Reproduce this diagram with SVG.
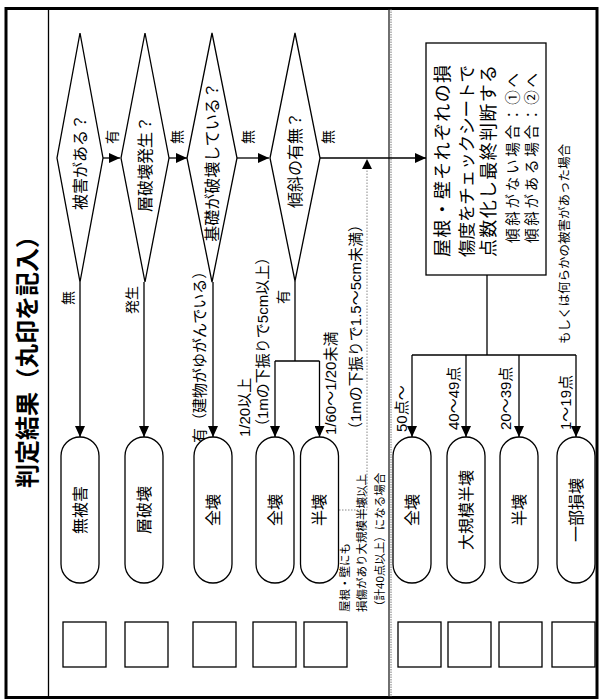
<svg xmlns="http://www.w3.org/2000/svg" width="601" height="699" viewBox="0 0 601 699">
<style>
text{font-family:"Liberation Sans","Noto Sans CJK JP",sans-serif;fill:#000}
.t{font-size:16px}
.s{font-size:14px}
.l{font-size:15px}
.d{fill:#fff;stroke:#000;stroke-width:1.3}
.cap{fill:#fff;stroke:#000;stroke-width:1.3}
.box{fill:#fff;stroke:#000;stroke-width:1.3}
.ln{fill:none;stroke:#000;stroke-width:1.3}
.dot{fill:none;stroke:#888;stroke-width:1;stroke-dasharray:1.5,1.5}
</style>
<defs>
<marker id="ah" markerUnits="userSpaceOnUse" markerWidth="11" markerHeight="10" refX="11" refY="5" orient="auto">
<path d="M0,0 L11,5 L0,10 z" fill="#000"/>
</marker>
</defs>
<rect x="0" y="0" width="601" height="699" fill="#fff"/>
<g id="frame">
<rect x="6" y="8.5" width="591" height="689" fill="none" stroke="#000" stroke-width="3"/>
<line x1="48.5" y1="9" x2="48.5" y2="697" stroke="#000" stroke-width="1.3"/>
<line x1="389" y1="9" x2="389" y2="697" stroke="#222" stroke-width="1.3"/>
<line x1="391" y1="9" x2="391" y2="697" stroke="#777" stroke-width="1" stroke-dasharray="1.5,1"/>
</g>
<g id="title">
<text transform="translate(27,356) rotate(-90)" text-anchor="middle" dominant-baseline="central" font-size="24" font-weight="bold">判定結果（丸印を記入）</text>
</g>
<g id="connectors">
<line class="ln" x1="103" y1="158" x2="120" y2="158" marker-end="url(#ah)"/>
<line class="ln" x1="169" y1="158" x2="187" y2="158" marker-end="url(#ah)"/>
<line class="ln" x1="237" y1="158" x2="269" y2="158" marker-end="url(#ah)"/>
<line class="ln" x1="320" y1="158" x2="426" y2="158" marker-end="url(#ah)"/>
<line class="ln" x1="80" y1="282" x2="80" y2="437" marker-end="url(#ah)"/>
<line class="ln" x1="144" y1="282" x2="144" y2="437" marker-end="url(#ah)"/>
<line class="ln" x1="213" y1="282" x2="213" y2="437" marker-end="url(#ah)"/>
<polyline class="ln" points="295,281 295,361"/>
<polyline class="ln" points="275,361 319.5,361"/>
<line class="ln" x1="275" y1="361" x2="275" y2="437" marker-end="url(#ah)"/>
<line class="ln" x1="319.5" y1="361" x2="319.5" y2="437" marker-end="url(#ah)"/>
<polyline class="dot" points="339,510 367,510 367,168"/>
<path d="M362,169 L367,159 L372,169 z" fill="#000"/>
<line class="ln" x1="487" y1="275" x2="487" y2="355"/>
<line class="ln" x1="412" y1="355" x2="576" y2="355"/>
<line class="ln" x1="412" y1="355" x2="412" y2="437" marker-end="url(#ah)"/>
<line class="ln" x1="466" y1="355" x2="466" y2="437" marker-end="url(#ah)"/>
<line class="ln" x1="519" y1="355" x2="519" y2="437" marker-end="url(#ah)"/>
<line class="ln" x1="576" y1="355" x2="576" y2="437" marker-end="url(#ah)"/>
<text class="s" transform="translate(112,137) rotate(-90)" text-anchor="middle" dominant-baseline="central">有</text>
<text class="s" transform="translate(177,137) rotate(-90)" text-anchor="middle" dominant-baseline="central">無</text>
<text class="s" transform="translate(248,137) rotate(-90)" text-anchor="middle" dominant-baseline="central">無</text>
<text class="s" transform="translate(328,137) rotate(-90)" text-anchor="middle" dominant-baseline="central">無</text>
<text class="s" transform="translate(68,298) rotate(-90)" text-anchor="middle" dominant-baseline="central">無</text>
<text class="s" transform="translate(132,300) rotate(-90)" text-anchor="middle" dominant-baseline="central">発生</text>
<text class="s" transform="translate(283,297) rotate(-90)" text-anchor="middle" dominant-baseline="central">有</text>
<text class="l" transform="translate(199,443) rotate(-90)" dominant-baseline="central">有（建物がゆがんでいる）</text>
<text class="l" transform="translate(244,437) rotate(-90)" dominant-baseline="central">1/20以上</text>
<text class="l" transform="translate(262,434) rotate(-90)" dominant-baseline="central">（1mの下振りで5cm以上）</text>
<text class="l" transform="translate(330,435) rotate(-90)" dominant-baseline="central">1/60～1/20未満</text>
<text class="l" transform="translate(355,437) rotate(-90)" dominant-baseline="central">（1mの下振りで1.5～5cm未満）</text>
<text font-size="11.5" transform="translate(345,612) rotate(-90)" dominant-baseline="central">屋根・壁にも</text>
<text font-size="11.5" transform="translate(362,612) rotate(-90)" dominant-baseline="central">損傷があり大規模半壊以上</text>
<text font-size="11.5" transform="translate(380,612) rotate(-90)" dominant-baseline="central">（計40点以上）になる場合</text>
<text class="l" transform="translate(401,432) rotate(-90)" dominant-baseline="central">50点～</text>
<text class="l" transform="translate(453,430) rotate(-90)" dominant-baseline="central">40～49点</text>
<text class="l" transform="translate(505,430) rotate(-90)" dominant-baseline="central">20～39点</text>
<text class="l" transform="translate(565,430) rotate(-90)" dominant-baseline="central">1～19点</text>
<text font-size="12.5" transform="translate(565,344) rotate(-90)" dominant-baseline="central">もしくは何らかの被害があった場合</text>
</g>
<g id="q1">
<polygon class="d" points="80,33 103,158 80,282 57,158"/>
<text class="t" transform="translate(80,162) rotate(-90)" text-anchor="middle" dominant-baseline="central">被害がある？</text>
</g>
<g id="q2">
<polygon class="d" points="145,33 169,158 145,282 121,158"/>
<text class="t" transform="translate(145,164) rotate(-90)" text-anchor="middle" dominant-baseline="central">層破壊発生？</text>
</g>
<g id="q3">
<polygon class="d" points="212,33 237,158 212,282 187,158"/>
<text class="t" transform="translate(212,162) rotate(-90)" text-anchor="middle" dominant-baseline="central">基礎が破壊している？</text>
</g>
<g id="q4">
<polygon class="d" points="295,33 320,158 295,281 270,158"/>
<text class="t" transform="translate(295,160) rotate(-90)" text-anchor="middle" dominant-baseline="central">傾斜の有無？</text>
</g>
<g id="check">
<rect class="box" x="426" y="43" width="120" height="232"/>
<text font-size="18" textLength="192" lengthAdjust="spacing" transform="translate(443,257) rotate(-90)" dominant-baseline="central">屋根・壁それぞれの損</text>
<text font-size="17.5" textLength="192" lengthAdjust="spacing" transform="translate(467,257) rotate(-90)" dominant-baseline="central">傷度をチェックシートで</text>
<text font-size="18" textLength="192" lengthAdjust="spacing" transform="translate(489,257) rotate(-90)" dominant-baseline="central">点数化し最終判断する</text>
<text font-size="14.5" textLength="170" lengthAdjust="spacing" transform="translate(513,243) rotate(-90)" dominant-baseline="central">傾斜がない場合：①へ</text>
<text font-size="14.5" textLength="170" lengthAdjust="spacing" transform="translate(532,243) rotate(-90)" dominant-baseline="central">傾斜がある場合：②へ</text>
</g>
<g id="r1"><rect class="cap" x="61" y="437" width="38" height="146" rx="19"/><text class="t" transform="translate(80,510) rotate(-90)" text-anchor="middle" dominant-baseline="central">無被害</text></g>
<g id="r2"><rect class="cap" x="125" y="437" width="38" height="146" rx="19"/><text class="t" transform="translate(144,510) rotate(-90)" text-anchor="middle" dominant-baseline="central">層破壊</text></g>
<g id="r3"><rect class="cap" x="194" y="437" width="38" height="146" rx="19"/><text class="t" transform="translate(213,510) rotate(-90)" text-anchor="middle" dominant-baseline="central">全壊</text></g>
<g id="r4"><rect class="cap" x="256" y="437" width="38" height="146" rx="19"/><text class="t" transform="translate(275,510) rotate(-90)" text-anchor="middle" dominant-baseline="central">全壊</text></g>
<g id="r5"><rect class="cap" x="300.5" y="437" width="38" height="146" rx="19"/><text class="t" transform="translate(319.5,510) rotate(-90)" text-anchor="middle" dominant-baseline="central">半壊</text></g>
<g id="r6"><rect class="cap" x="393" y="437" width="38" height="146" rx="19"/><text class="t" transform="translate(412,510) rotate(-90)" text-anchor="middle" dominant-baseline="central">全壊</text></g>
<g id="r7"><rect class="cap" x="447" y="437" width="38" height="146" rx="19"/><text class="t" transform="translate(466,510) rotate(-90)" text-anchor="middle" dominant-baseline="central">大規模半壊</text></g>
<g id="r8"><rect class="cap" x="500" y="437" width="38" height="146" rx="19"/><text class="t" transform="translate(519,510) rotate(-90)" text-anchor="middle" dominant-baseline="central">半壊</text></g>
<g id="r9"><rect class="cap" x="557" y="437" width="38" height="146" rx="19"/><text class="t" transform="translate(576,510) rotate(-90)" text-anchor="middle" dominant-baseline="central">一部損壊</text></g>
<g id="boxes">
<rect class="box" x="63" y="622" width="43" height="45"/>
<rect class="box" x="125" y="622" width="43" height="45"/>
<rect class="box" x="193" y="622" width="43" height="45"/>
<rect class="box" x="253" y="622" width="43" height="45"/>
<rect class="box" x="304" y="622" width="43" height="45"/>
<rect class="box" x="398" y="622" width="43" height="45"/>
<rect class="box" x="448" y="622" width="43" height="45"/>
<rect class="box" x="499" y="622" width="43" height="45"/>
<rect class="box" x="552" y="622" width="43" height="45"/>
</g>
</svg>
